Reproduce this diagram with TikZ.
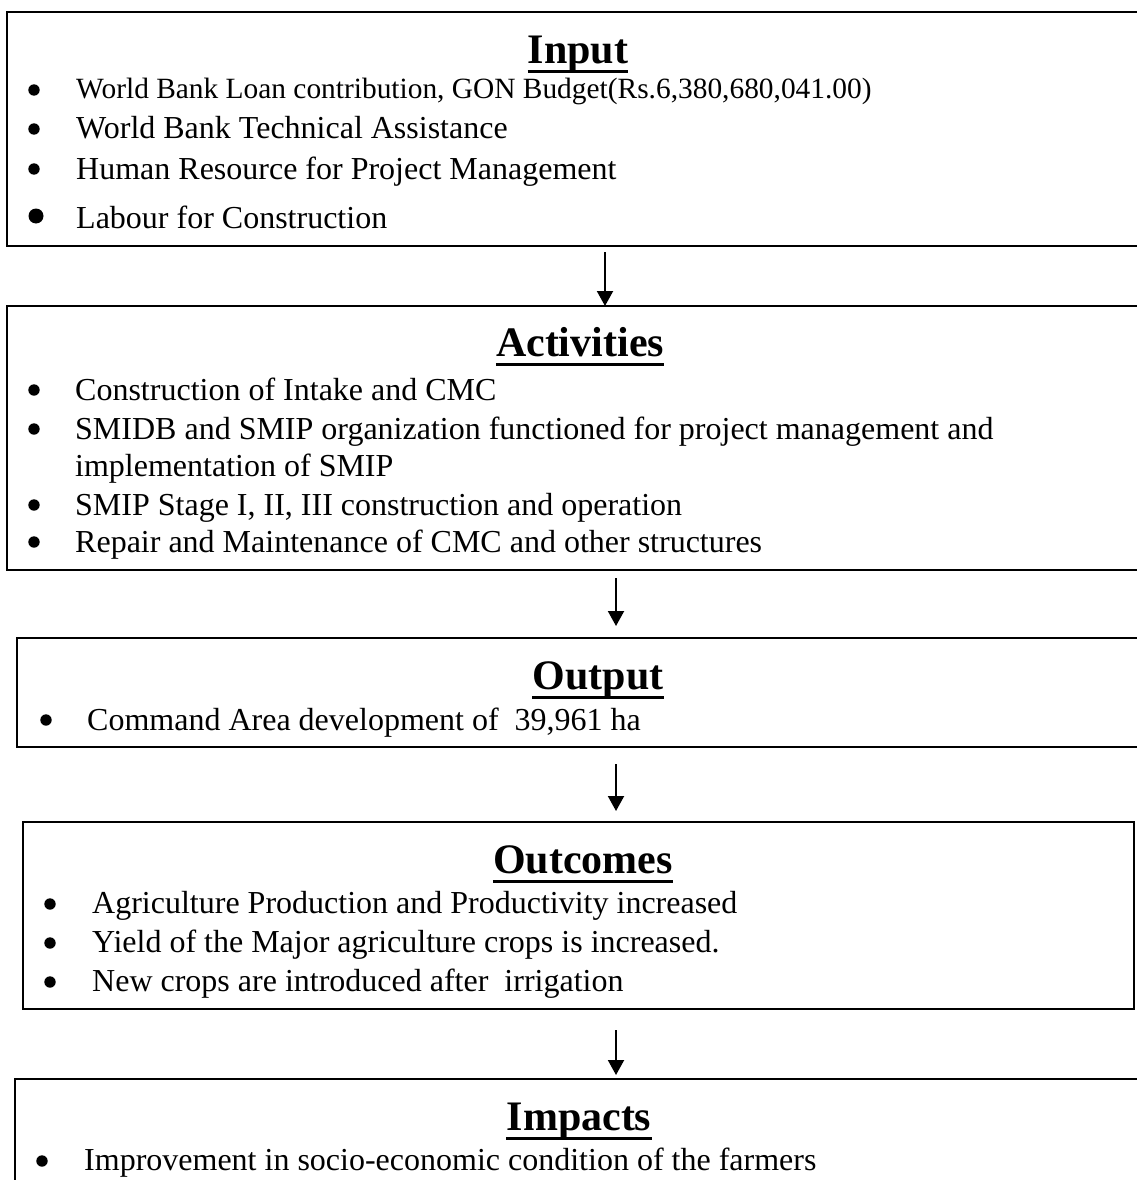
\documentclass[tikz,border=0pt]{standalone}
\usepackage{fontspec}
\setmainfont{Liberation Serif}
\usetikzlibrary{arrows.meta}
\tikzset{
  box/.style={draw, line width=1.8pt, rectangle, inner sep=0pt, outer sep=0pt, anchor=north west},
  ttl/.style={font=\fontsize{42}{48}\selectfont\bfseries, inner sep=0pt, anchor=base},
  itm/.style={font=\fontsize{32}{38}\selectfont, inner sep=0pt, anchor=base west},
  itmsmall/.style={font=\fontsize{29.4}{35}\selectfont, inner sep=0pt, anchor=base west},
  ulin/.style={line width=3pt},
  arr/.style={line width=2pt, -{Triangle[width=16pt,length=15pt]}},
}
\newcommand{\bul}[3][5.7]{\fill (#2,#3) circle (#1);}
\begin{document}
\begin{tikzpicture}[x=1pt,y=-1pt]
\useasboundingbox (0,0) rectangle (1137,1180);
\clip (0,0) rectangle (1137,1180);
% boxes
\node[box, minimum width=1143pt, minimum height=234pt] (input) at (7,12) {};
\node[box, minimum width=1143pt, minimum height=264pt] (activities) at (7,306) {};
\node[box, minimum width=1133pt, minimum height=109pt] (output) at (17,638) {};
\node[box, minimum width=1111pt, minimum height=187pt] (outcomes) at (23,822) {};
\node[box, minimum width=1135pt, minimum height=140pt] (impacts) at (15,1079) {};
% titles
\node[ttl] (tin) at (578,64) {Input};
\draw[ulin] ([yshift=-8pt]tin.base west) -- ([yshift=-8pt]tin.base east);
\node[ttl] (tact) at (580,356) {Activities};
\draw[ulin] ([yshift=-8pt]tact.base west) -- ([yshift=-8pt]tact.base east);
\node[ttl] (tout) at (598,689) {Output};
\draw[ulin] ([yshift=-8pt]tout.base west) -- ([yshift=-8pt]tout.base east);
\node[ttl] (toc) at (583,873) {Outcomes};
\draw[ulin] ([yshift=-8pt]toc.base west) -- ([yshift=-8pt]toc.base east);
\node[ttl] (timp) at (579,1130) {Impacts};
\draw[ulin] ([yshift=-8pt]timp.base west) -- ([yshift=-8pt]timp.base east);
% Input items
\bul{34}{90}
\node[itmsmall] (i1) at (76,99) {World Bank Loan contribution, GON Budget(Rs.6,380,680,041.00)};
\bul{34}{129}
\node[itm] (i2) at (76,139) {World Bank Technical Assistance};
\bul{34}{169}
\node[itm] (i3) at (76,179) {Human Resource for Project Management};
\bul[7.5]{36}{216}
\node[itm] (i4) at (76,228) {Labour for Construction};
% Activities items
\bul{34}{390}
\node[itm] (a1) at (75,400) {Construction of Intake and CMC};
\bul{34}{429}
\node[itm] (a2) at (75,439) {SMIDB and SMIP organization functioned for project management and};
\node[itm] (a2b) at (75,476) {implementation of SMIP};
\bul{34}{505}
\node[itm] (a3) at (75,515) {SMIP Stage I, II, III construction and operation};
\bul{34}{542}
\node[itm] (a4) at (75,552) {Repair and Maintenance of CMC and other structures};
% Output item
\bul{46}{720}
\node[itm] (o1) at (87,730) {Command Area development of\ \ 39,961 ha};
% Outcomes items
\bul{50}{904}
\node[itm] (c1) at (92,913) {Agriculture Production and Productivity increased};
\bul{50}{943}
\node[itm] (c2) at (92,952) {Yield of the Major agriculture crops is increased.};
\bul{50}{982}
\node[itm] (c3) at (92,991) {New crops are introduced after\ \ irrigation};
% Impacts item
\bul{42}{1161}
\node[itm] (m1) at (84,1170) {Improvement in socio-economic condition of the farmers};
% arrows
\coordinate (ax1) at (605,0);
\coordinate (ax2) at (616,0);
\draw[arr, shorten <=6pt] (input.south -| ax1) -- (activities.north -| ax1);
\draw[arr, shorten <=8pt, shorten >=12pt] (activities.south -| ax2) -- (output.north -| ax2);
\draw[arr, shorten <=17pt, shorten >=11pt] (output.south -| ax2) -- (outcomes.north -| ax2);
\draw[arr, shorten <=21pt, shorten >=4pt] (outcomes.south -| ax2) -- (impacts.north -| ax2);
\end{tikzpicture}
\end{document}
